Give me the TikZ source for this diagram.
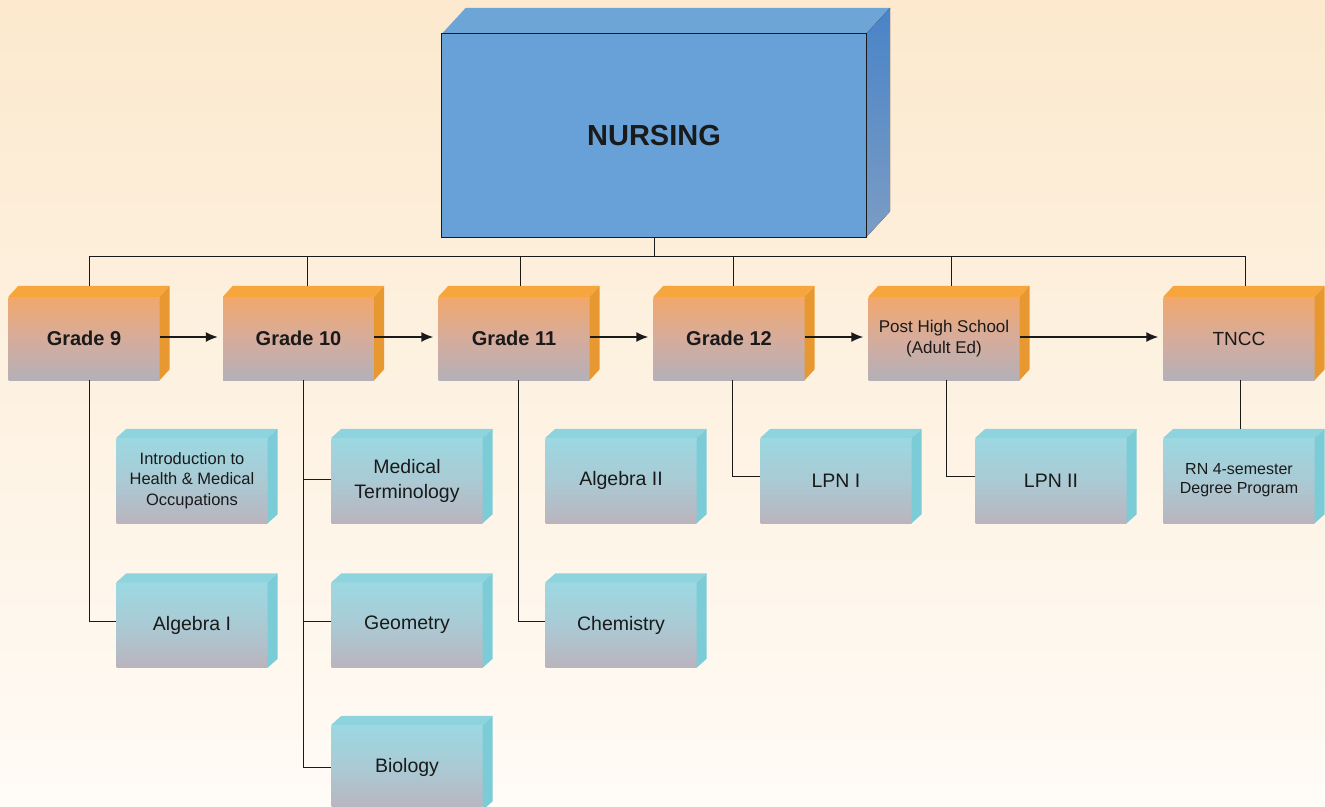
\documentclass[tikz,border=0pt]{standalone}
\usepackage{fontspec}
\setmainfont{Liberation Sans}
\usetikzlibrary{arrows.meta,calc}
\definecolor{bgTop}{RGB}{252,233,206}
\definecolor{bgBot}{RGB}{255,251,246}
\definecolor{nFront}{RGB}{103,161,215}
\definecolor{nTop}{RGB}{108,165,214}
\definecolor{nSideT}{RGB}{72,132,200}
\definecolor{nSideB}{RGB}{124,156,196}
\definecolor{gTop}{RGB}{242,168,108}
\definecolor{gMid}{RGB}{214,172,156}
\definecolor{gBot}{RGB}{180,176,184}
\definecolor{gFaceT}{RGB}{246,166,60}
\definecolor{gFaceR}{RGB}{232,152,48}
\definecolor{cTop}{RGB}{156,216,226}
\definecolor{cMid}{RGB}{170,202,212}
\definecolor{cBot}{RGB}{186,180,190}
\definecolor{cFaceT}{RGB}{142,212,222}
\definecolor{cFaceR}{RGB}{124,204,216}
\definecolor{ink}{RGB}{26,26,26}
\newcommand\mkfaces[5]{%
  \fill[#4] (#1.north west) -- ++(#2,-#3) -- ([shift={(#2,-#3)}]#1.north east) -- (#1.north east) -- cycle;
  \fill[#5] (#1.north east) -- ++(#2,-#3) -- ([shift={(#2,-#3)}]#1.south east) -- (#1.south east) -- cycle;
  \coordinate (#1-bk) at ([shift={(0,-#3)}]#1.north);
}
\begin{document}
\begin{tikzpicture}[x=1pt,y=-1pt,
  nursebox/.style={minimum width=424pt, minimum height=203pt, inner sep=0pt, fill=nFront, text=ink,
    font=\fontsize{29}{34}\selectfont\bfseries},
  gradebox/.style={minimum width=151pt, minimum height=83pt, inner sep=0pt,
    top color=gTop, bottom color=gBot, middle color=gMid, text=ink, align=center,
    font=\fontsize{20}{24}\selectfont\bfseries},
  gradeplain/.style={gradebox, font=\fontsize{17}{20.5}\selectfont},
  coursebox/.style={minimum width=151pt, minimum height=85pt, inner sep=0pt,
    top color=cTop, bottom color=cBot, middle color=cMid, text=ink, align=center,
    font=\fontsize{19.5}{25}\selectfont},
  coursesmall/.style={coursebox, font=\fontsize{16.5}{20.5}\selectfont},
  conn/.style={draw=ink, line width=1pt},
  arr/.style={draw=ink, line width=1.5pt, -{Latex[length=12pt,width=10pt]}, shorten >=5pt}
]
\useasboundingbox (0,0) rectangle (1325,806);
\clip (0,0) rectangle (1325,806);
\fill[top color=bgTop, bottom color=bgBot] (0,0) rectangle (1325,806);

% top box
\node[nursebox] (nursing) at (654,135.5) {NURSING};
\mkfaces{nursing}{24}{26}{nTop}{top color=nSideT, bottom color=nSideB}
\draw[ink, line width=1.2pt] (nursing.south west) rectangle (nursing.north east);

% grade boxes
\node[gradebox] (g9) at (84,338.5) {Grade 9};
\node[gradebox] (g10) at (298.5,338.5) {Grade 10};
\node[gradebox] (g11) at (514,338.5) {Grade 11};
\node[gradebox] (g12) at (729,338.5) {Grade 12};
\node[gradeplain] (ph) at (944,338.5) {Post High School\\(Adult Ed)};
\node[gradebox, font=\fontsize{19}{23}\selectfont] (tncc) at (1239,338.5) {TNCC};
\foreach \n in {g9,g10,g11,g12,ph,tncc}{\mkfaces{\n}{10}{11}{gFaceT}{gFaceR}}

% course boxes
\node[coursesmall] (intro) at (192,480.5) {Introduction to\\Health \& Medical\\Occupations};
\node[coursebox] (alg1) at (192,625) {Algebra I};
\node[coursebox] (medterm) at (407,480.5) {Medical\\Terminology};
\node[coursebox] (geom) at (407,625) {Geometry};
\node[coursebox] (bio) at (407,767.5) {Biology};
\node[coursebox] (alg2) at (621,480.5) {Algebra II};
\node[coursebox] (chem) at (621,625) {Chemistry};
\node[coursebox] (lpn1) at (836,480.5) {LPN I};
\node[coursebox] (lpn2) at (1051,480.5) {LPN II};
\node[coursesmall, font=\fontsize{16}{19}\selectfont] (rn) at (1239,480.5) {RN 4-semester\\Degree Program};
\foreach \n in {intro,alg1,medterm,geom,bio,alg2,chem,lpn1,lpn2,rn}{\mkfaces{\n}{10}{9}{cFaceT}{cFaceR}}

% bus
\coordinate (hub) at (654,256);
\coordinate (d9) at (89,256);
\coordinate (d10) at (307,256);
\coordinate (d11) at (520,256);
\coordinate (d12) at (733,256);
\coordinate (dph) at (951,256);
\coordinate (dtn) at (1245,256);
\draw[conn] (nursing.south) -- (hub);
\draw[conn] (d9) -- (dtn);
\draw[conn] (d9) -- (d9 |- g9-bk);
\draw[conn] (d10) -- (d10 |- g10-bk);
\draw[conn] (d11) -- (d11 |- g11-bk);
\draw[conn] (d12) -- (d12 |- g12-bk);
\draw[conn] (dph) -- (dph |- ph-bk);
\draw[conn] (dtn) -- (dtn |- tncc-bk);

% arrows
\draw[arr] ([yshift=1.5pt]g9.east) -- ([yshift=1.5pt]g10.west);
\draw[arr] ([yshift=1.5pt]g10.east) -- ([yshift=1.5pt]g11.west);
\draw[arr] ([yshift=1.5pt]g11.east) -- ([yshift=1.5pt]g12.west);
\draw[arr] ([yshift=1.5pt]g12.east) -- ([yshift=1.5pt]ph.west);
\draw[arr] ([yshift=1.5pt]ph.east) -- ([yshift=1.5pt]tncc.west);

% course connectors
\draw[conn] ([xshift=5pt]g9.south) |- ([yshift=4pt]alg1.west);
\coordinate (v10) at ([xshift=4.5pt]g10.south);
\draw[conn] (v10) |- (bio.west);
\draw[conn] ([yshift=1.5pt]medterm.west) -- ([yshift=1.5pt]medterm.west -| v10);
\draw[conn] ([yshift=4pt]geom.west) -- ([yshift=4pt]geom.west -| v10);
\draw[conn] ([xshift=4pt]g11.south) |- ([yshift=4pt]chem.west);
\draw[conn] ([xshift=3pt]g12.south) |- ([yshift=4.5pt]lpn1.west);
\draw[conn] ([xshift=2pt]ph.south) |- ([yshift=4.5pt]lpn2.west);
\draw[conn] ([xshift=1pt]tncc.south) -- ([xshift=1pt]tncc.south |- rn-bk);
\end{tikzpicture}
\end{document}
